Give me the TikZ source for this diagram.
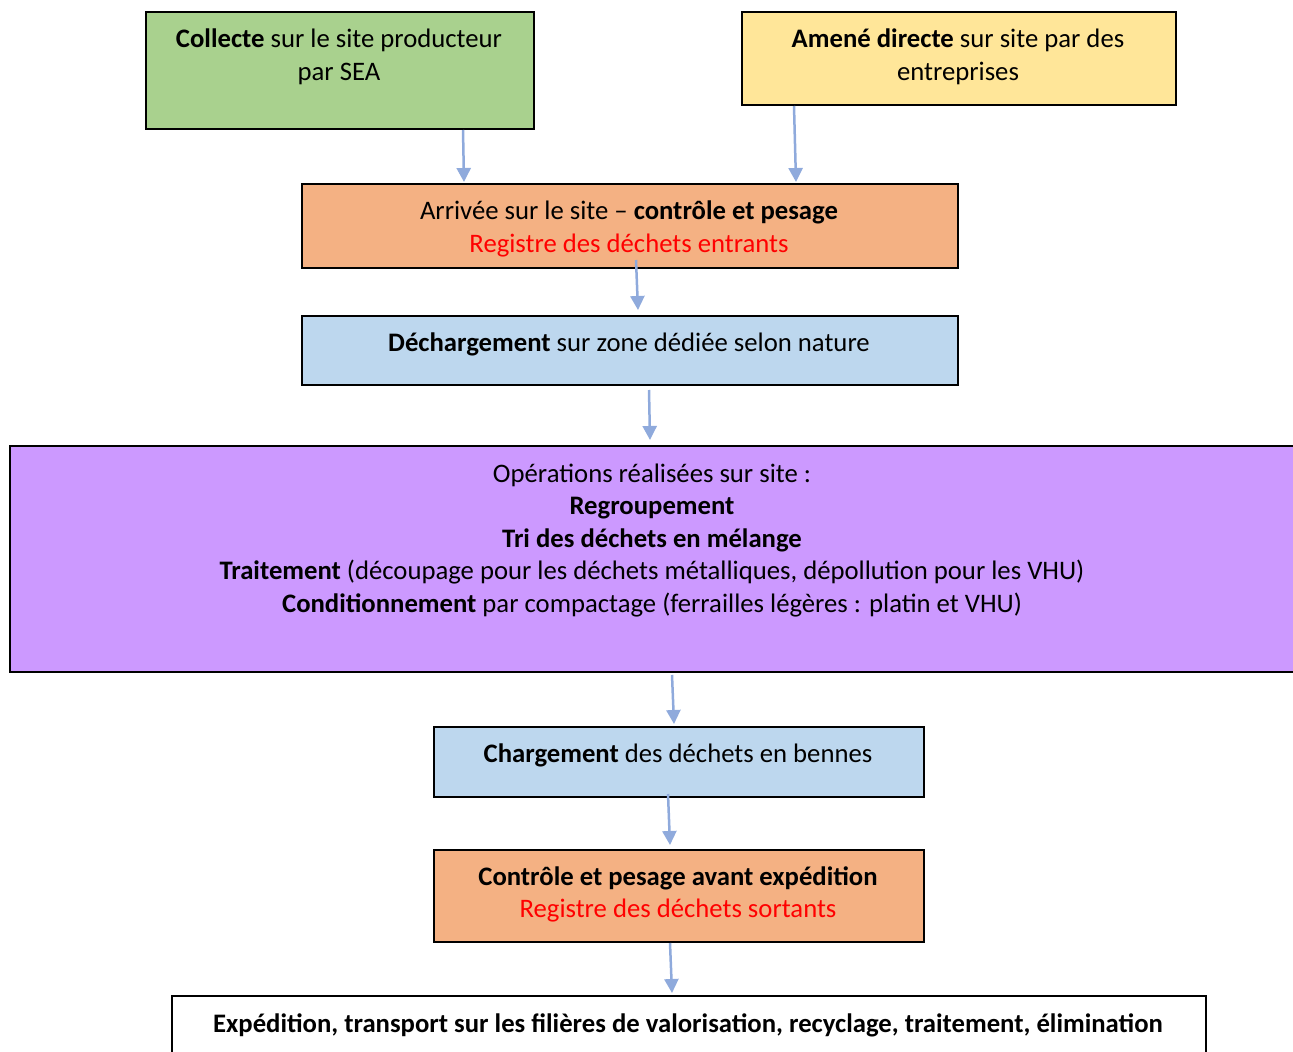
\documentclass[tikz,border=0pt]{standalone}
\usepackage{fontspec}
\setmainfont{Carlito}
\usetikzlibrary{arrows.meta}
\definecolor{cgreen}{HTML}{A9D18E}
\definecolor{cyellow}{HTML}{FFE699}
\definecolor{corange}{HTML}{F4B183}
\definecolor{cblue}{HTML}{BDD7EE}
\definecolor{cpurple}{HTML}{CC99FF}
\definecolor{carrow}{HTML}{8FAADC}
\definecolor{cred}{HTML}{FF0000}
\tikzset{
  box/.style={draw=black, line width=2pt, inner sep=0pt, anchor=north west},
  txt/.style={anchor=base, inner sep=0pt, font=\fontsize{26.7pt}{32.7pt}\selectfont},
  flow/.style={draw=carrow, line width=2.5pt, -{Triangle[width=14pt,length=14pt]}},
}
\begin{document}
\begin{tikzpicture}[x=1pt,y=-1pt]
\useasboundingbox (0,0) rectangle (1293,1052);
\clip (0,0) rectangle (1293,1052);
% boxes
\node[box, fill=cgreen, minimum width=388pt, minimum height=117pt] (b1) at (145,11) {};
\node[box, fill=cyellow, minimum width=434pt, minimum height=93pt] (b2) at (741,11) {};
\node[box, fill=corange, minimum width=656pt, minimum height=84pt] (b3) at (301,183) {};
\node[box, fill=cblue, minimum width=656pt, minimum height=69pt] (b4) at (301,315) {};
\node[box, fill=cpurple, minimum width=1294pt, minimum height=226pt] (b5) at (9,445) {};
\node[box, fill=cblue, minimum width=490pt, minimum height=70pt] (b6) at (433,726) {};
\node[box, fill=corange, minimum width=490pt, minimum height=92pt] (b7) at (433,849) {};
\node[box, fill=white, minimum width=1034pt, minimum height=67pt] (b8) at (171,995) {};
% texts
\node[txt] (t1a) at (339,47) {\textbf{Collecte} sur le site producteur};
\node[txt] (t1b) at (339,80) {par SEA};
\node[txt] (t2a) at (958,47) {\textbf{Amené directe} sur site par des};
\node[txt] (t2b) at (958,80) {entreprises};
\node[txt] (t3a) at (629,219) {Arrivée sur le site – \textbf{contrôle et pesage}};
\node[txt, text=cred] (t3b) at (629,252) {Registre des déchets entrants};
\node[txt] (t4) at (629,351) {\textbf{Déchargement} sur zone dédiée selon nature};
\node[txt] (t5a) at (652,482) {Opérations réalisées sur site :};
\node[txt] (t5b) at (652,514) {\textbf{Regroupement}};
\node[txt] (t5c) at (652,547) {\textbf{Tri des déchets en mélange}};
\node[txt] (t5d) at (652,579) {\textbf{Traitement} (découpage pour les déchets métalliques, dépollution pour les VHU)};
\node[txt] (t5e) at (652,612) {\textbf{Conditionnement} par compactage (ferrailles légères : platin et VHU)};
\node[txt] (t6) at (678,762) {\textbf{Chargement} des déchets en bennes};
\node[txt] (t7a) at (678,885) {\textbf{Contrôle et pesage avant expédition}};
\node[txt, text=cred] (t7b) at (678,917) {Registre des déchets sortants};
\node[txt] (t8) at (688,1032) {\textbf{Expédition, transport sur les filières de valorisation, recyclage, traitement, élimination}};
% arrows
\draw[flow] ([xshift=123pt]b1.south) -- ([xshift=-166pt,yshift=1pt]b3.north);
\draw[flow] ([xshift=-165pt]b2.south) -- ([xshift=166pt,yshift=1pt]b3.north);
\draw[flow] ([xshift=6pt,yshift=9pt]b3.south) -- ([xshift=8pt,yshift=5pt]b4.north);
\draw[flow] ([xshift=19pt,yshift=-4pt]b4.south) -- ([xshift=-7pt,yshift=5pt]b5.north);
\draw[flow] ([xshift=15pt,yshift=-2pt]b5.south) -- ([xshift=-5pt,yshift=2pt]b6.north);
\draw[flow] ([xshift=-11pt,yshift=4pt]b6.south) -- ([xshift=-9pt,yshift=4pt]b7.north);
\draw[flow] ([xshift=-9pt]b7.south) -- ([xshift=-17pt,yshift=2pt]b8.north);
\end{tikzpicture}
\end{document}
